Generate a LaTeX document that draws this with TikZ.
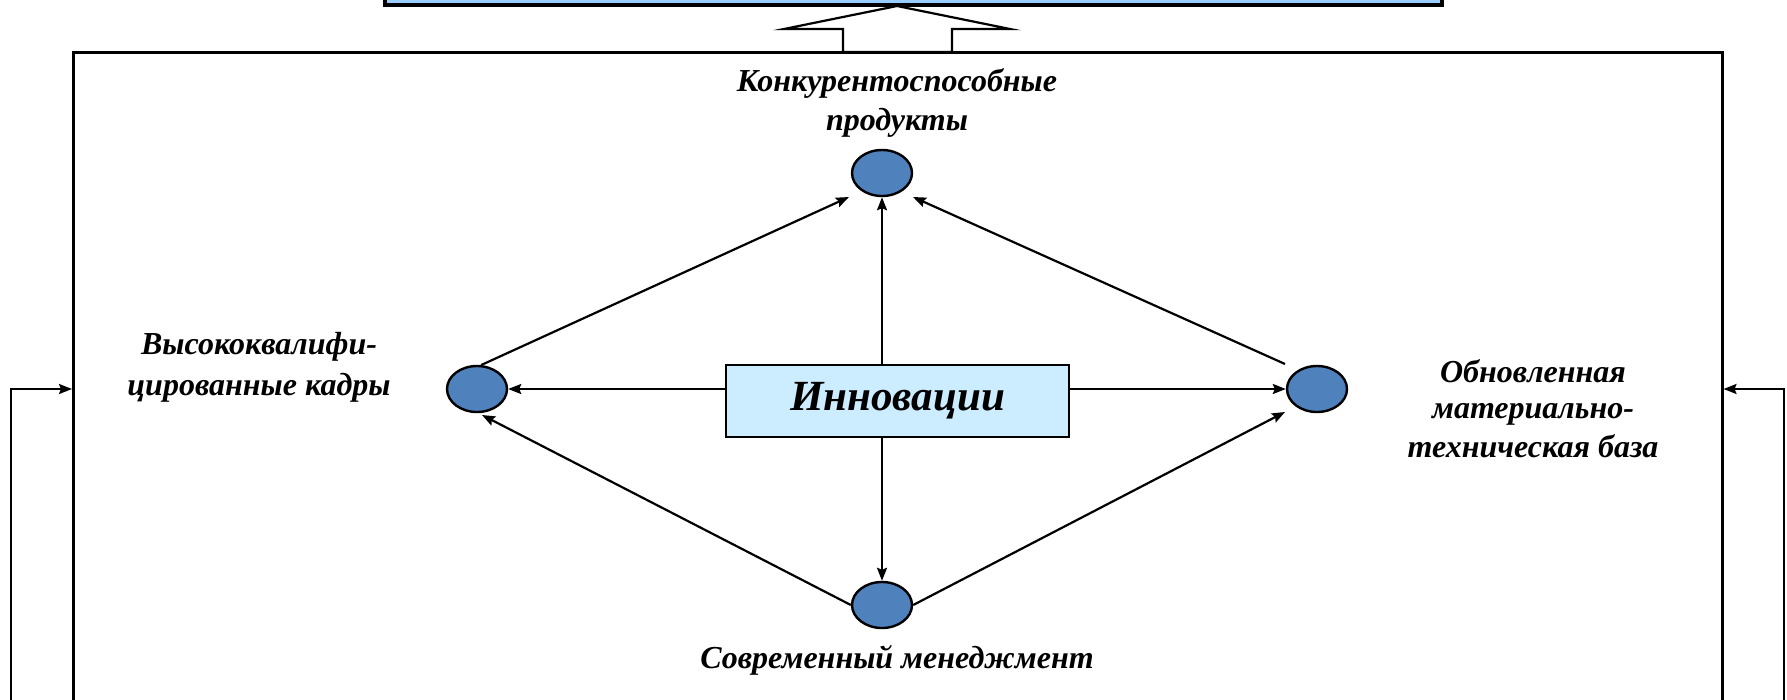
\documentclass[tikz,border=0pt]{standalone}
\usepackage{fontspec}
\setmainfont{Liberation Serif}
\usetikzlibrary{arrows.meta,shapes.geometric,calc}
\definecolor{topfill}{HTML}{99CCFF}
\definecolor{innofill}{HTML}{CCECFF}
\definecolor{dotfill}{HTML}{4F81BD}
\begin{document}
\begin{tikzpicture}[x=1pt,y=-1pt,
  lbl/.style={anchor=base,inner sep=0pt,font=\fontsize{32}{36}\selectfont\bfseries\itshape},
  dot/.style={ellipse,draw,line width=2.4pt,fill=dotfill,minimum width=60pt,minimum height=46pt,inner sep=0pt},
  arr/.style={line width=2.2pt,-{Stealth[length=13pt,width=10pt,inset=2pt]}},
  fb/.style={line width=2.2pt,-{Stealth[length=13pt,width=10pt,inset=2pt]}}]
\useasboundingbox (0,0) rectangle (1787,699);
% outer frame
\node[draw,line width=2.5pt,minimum width=1649pt,minimum height=680pt,anchor=north west,inner sep=0pt] (frame) at (72,51) {};
% top box
\node[draw,line width=3.5pt,fill=topfill,minimum width=1057pt,minimum height=60pt,inner sep=0pt] (topbox) at (913.5,-25) {};
% hollow arrow
\draw[line width=2.2pt,fill=white,line join=miter]
  (843,52) -- (843,29) -- (784,29) -- (897,6) -- (1010,29) -- (952,29) -- (952,52) -- cycle;
% center box
\node[draw,line width=2.5pt,fill=innofill,minimum width=343pt,minimum height=72pt,inner sep=0pt,
  font=\fontsize{43}{47}\selectfont\bfseries\itshape] (inno) at (897.5,401) {Инновации};
% ellipses
\node[dot] (eT) at (882,173) {};
\node[dot] (eL) at (477,389) {};
\node[dot] (eR) at (1317,389) {};
\node[dot] (eB) at (882,605) {};
% connectors
\draw[arr] (eL -| inno.west) -- (eL.east);
\draw[arr] (eR -| inno.east) -- (eR.west);
\draw[arr] (eT |- inno.north) -- (eT.south);
\draw[arr] (eB |- inno.south) -- (eB.north);
\draw[arr] (eL.80) -- ($(eT.center)+(-33,24)$);
\draw[arr] ($(eR.center)+(-32,-25)$) -- ($(eT.center)+(31,24)$);
\draw[arr] (eB.west) -- ($(eL.center)+(5,26)$);
\draw[arr] (eB.east) -- ($(eR.center)+(-32,23)$);
% feedback lines
\coordinate (lb) at (11,720);
\coordinate (rb) at (1784,720);
\draw[fb] (lb) |- (frame.west |- eL);
\draw[fb] (rb) |- (frame.east |- eR);
% labels
\node[lbl] (t1) at (897,91) {Конкурентоспособные};
\node[lbl] (t2) at (897,130) {продукты};
\node[lbl] (l1) at (259,354) {Высококвалифи-};
\node[lbl] (l2) at (259,395) {цированные кадры};
\node[lbl] (r1) at (1533,382) {Обновленная};
\node[lbl] (r2) at (1533,418) {материально-};
\node[lbl] (r3) at (1533,457) {техническая база};
\node[lbl] (b1) at (897,668) {Современный менеджмент};
\end{tikzpicture}
\end{document}
